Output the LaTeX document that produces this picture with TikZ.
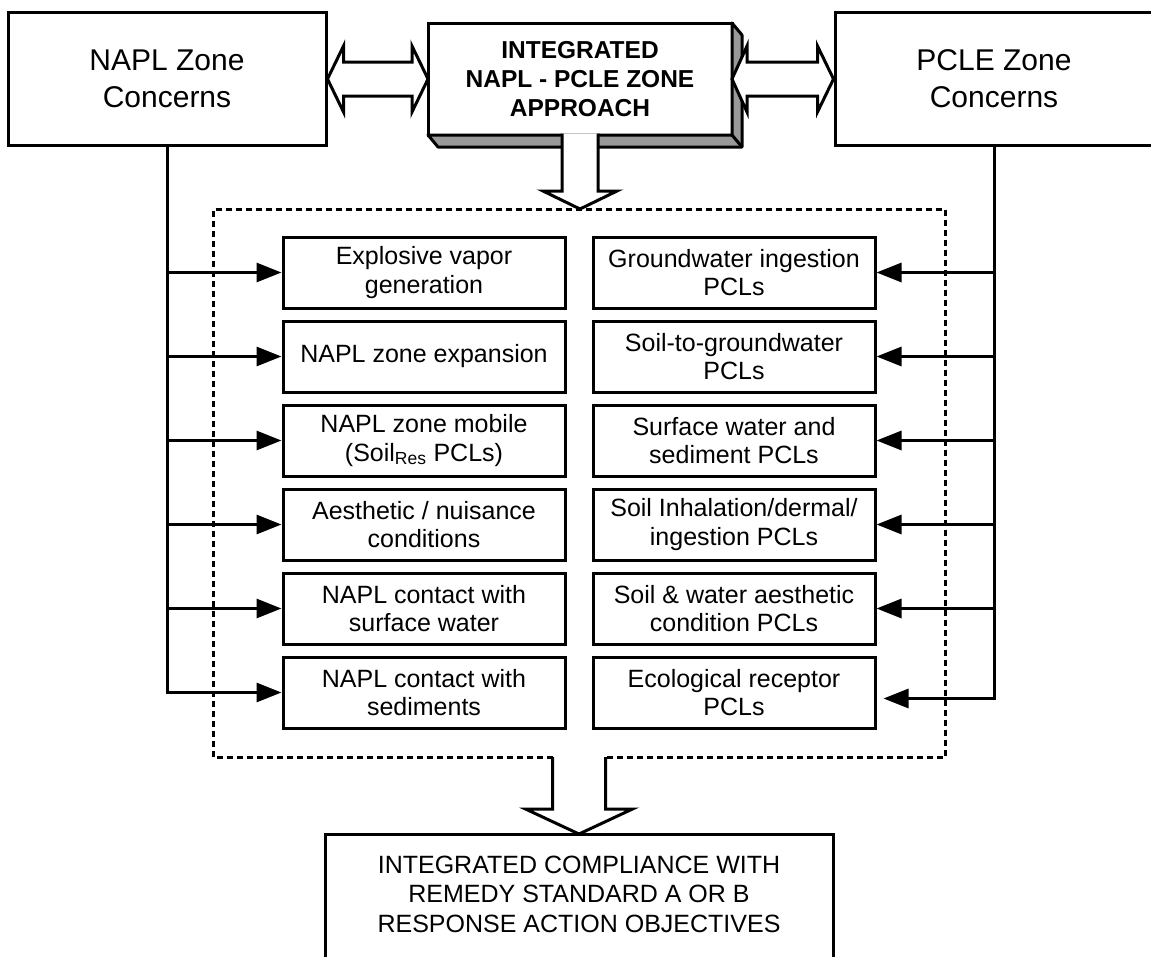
\documentclass[tikz,border=0pt]{standalone}
\usepackage{fontspec}
\setmainfont{Liberation Sans}
\usepackage{tikz}
\usetikzlibrary{positioning, calc, arrows.meta}

\begin{document}
\begin{tikzpicture}[x=1pt, y=-1pt,
    concern/.style={rectangle, 
      draw, 
      line width=3pt, 
      align=center, 
      minimum width=318pt, 
      minimum height=133pt, 
      font=\fontsize{30}{37}\selectfont},
    item/.style={rectangle, 
      draw, 
      line width=3pt, 
      align=center, 
      inner sep=2pt, 
      minimum width=282pt, 
      minimum height=71pt, 
      font=\fontsize{25}{28.5}\selectfont},
    hollow/.style={line width=3pt, 
      fill=white, 
      line join=miter},
    flow/.style={line width=3pt, 
      -{Triangle[length=25pt, width=19pt]}}]
  \useasboundingbox (0,0) rectangle (1151,956);

% CONCERNS

  \node [concern] (napl) at (167,79) {NAPL Zone\\Concerns};

  \node [concern] (pcle) at (994,79) {PCLE Zone\\Concerns};

  \node [rectangle, 
    draw, 
    fill=white, 
    line width=3pt, 
    outer sep=0pt, 
    align=center, 
    minimum width=304pt, 
    minimum height=112pt, 
    font=\fontsize{24.5}{29}\selectfont\bfseries] (approach) at (580,79) {
    INTEGRATED\\NAPL - PCLE ZONE\\APPROACH
  };

  % raised edge
  \draw [line width=3pt, fill=black!40, line join=round] (approach.north east) 
  -- ++(10,12) -- ++(0,112) -- ++(-304,0) 
  -- (approach.south west) -- (approach.south east) -- cycle;
  \draw [line width=3pt] (approach.south east) -- ++(10,12);

% ZONE ITEMS

  \node [item] (l1) at (424,272.5) {Explosive vapor\\generation};
  \node [item, below=10pt of l1] (l2) {NAPL zone expansion};
  \node [item, below=10pt of l2] (l3) {NAPL zone mobile\\(Soil\textsubscript{Res} PCLs)};
  \node [item, below=10pt of l3] (l4) {Aesthetic / nuisance\\conditions};
  \node [item, below=10pt of l4] (l5) {NAPL contact with\\surface water};
  \node [item, below=10pt of l5] (l6) {NAPL contact with\\sediments};

  \node [item, right=25pt of l1] (r1) {Groundwater ingestion\\PCLs};
  \node [item, right=25pt of l2] (r2) {Soil-to-groundwater\\PCLs};
  \node [item, right=25pt of l3] (r3) {Surface water and\\sediment PCLs};
  \node [item, right=25pt of l4] (r4) {Soil Inhalation/dermal/\\ingestion PCLs};
  \node [item, right=25pt of l5] (r5) {Soil \& water aesthetic\\condition PCLs};
  \node [item, right=25pt of l6] (r6) {Ecological receptor\\PCLs};

  \node [minimum width=732pt, minimum height=548pt, outer sep=0pt] (zone) at (579,483) {};
  \draw [line width=3pt, dash pattern=on 6pt off 4pt] ($(zone.south)+(-26.5,0)$) 
  -| (zone.north west) -| (zone.south east) -- ($(zone.south)+(26.5,0)$);

  % LINKS

  \draw [flow] (napl.south) |- (l6.west);
  \draw [flow] (napl.south |- l1.west) -- (l1.west);
  \draw [flow] (napl.south |- l2.west) -- (l2.west);
  \draw [flow] (napl.south |- l3.west) -- (l3.west);
  \draw [flow] (napl.south |- l4.west) -- (l4.west);
  \draw [flow] (napl.south |- l5.west) -- (l5.west);

  \coordinate (r6in) at ($(r6.east)+(7,6)$);
  \draw [flow] (pcle.south) |- (r6in);
  \draw [flow] (pcle.south |- r1.east) -- (r1.east);
  \draw [flow] (pcle.south |- r2.east) -- (r2.east);
  \draw [flow] (pcle.south |- r3.east) -- (r3.east);
  \draw [flow] (pcle.south |- r4.east) -- (r4.east);
  \draw [flow] (pcle.south |- r5.east) -- (r5.east);

  % BLOCK ARROWS

  \draw [hollow] (napl.east) -- ++(16,-33) -- ++(0,16) 
  -- ($(approach.west)+(-16,-17)$) -- ++(0,-16) -- (approach.west) 
  -- ++(-16,33) -- ++(0,-16) -- ($(napl.east)+(16,17)$) -- ++(0,16) -- cycle;

  \draw [hollow] (approach.east) -- ++(15,-33) -- ++(0,16) 
  -- ($(pcle.west)+(-16,-17)$) -- ++(0,-16) -- (pcle.west) 
  -- ++(-16,33) -- ++(0,-16) -- ($(approach.east)+(15,17)$) -- ++(0,16) -- cycle;

  \coordinate (ztop) at (zone.north -| approach.south);
  \draw [hollow] ($(approach.south)+(-18,-1.5)$) -- ++(0,57.5) -- ++(-19,0) 
  -- (ztop) -- ($(ztop)+(37,-18)$) -- ++(-19,0) -- ($(approach.south)+(18,-1.5)$);

  \coordinate (goaltop) at (579,834);
  \draw [hollow] ($(zone.south)+(-26.5,0)$) -- ++(0,52) -- ++(-27,0) 
  -- (goaltop) -- ($(goaltop)+(53.5,-25)$) -- ++(-27,0) -- ($(zone.south)+(26.5,0)$);

% OBJECTIVES

  \node [align=center, font=\fontsize{25}{29.5}\selectfont] (goal) at (579,894) {
    INTEGRATED COMPLIANCE WITH\\REMEDY STANDARD A OR B\\RESPONSE ACTION OBJECTIVES
  };
  \draw [line width=3pt] ($(goaltop)+(-254,140)$) |- ($(goaltop)+(254,0)$) -- ++(0,140);

\end{tikzpicture}
\end{document}
